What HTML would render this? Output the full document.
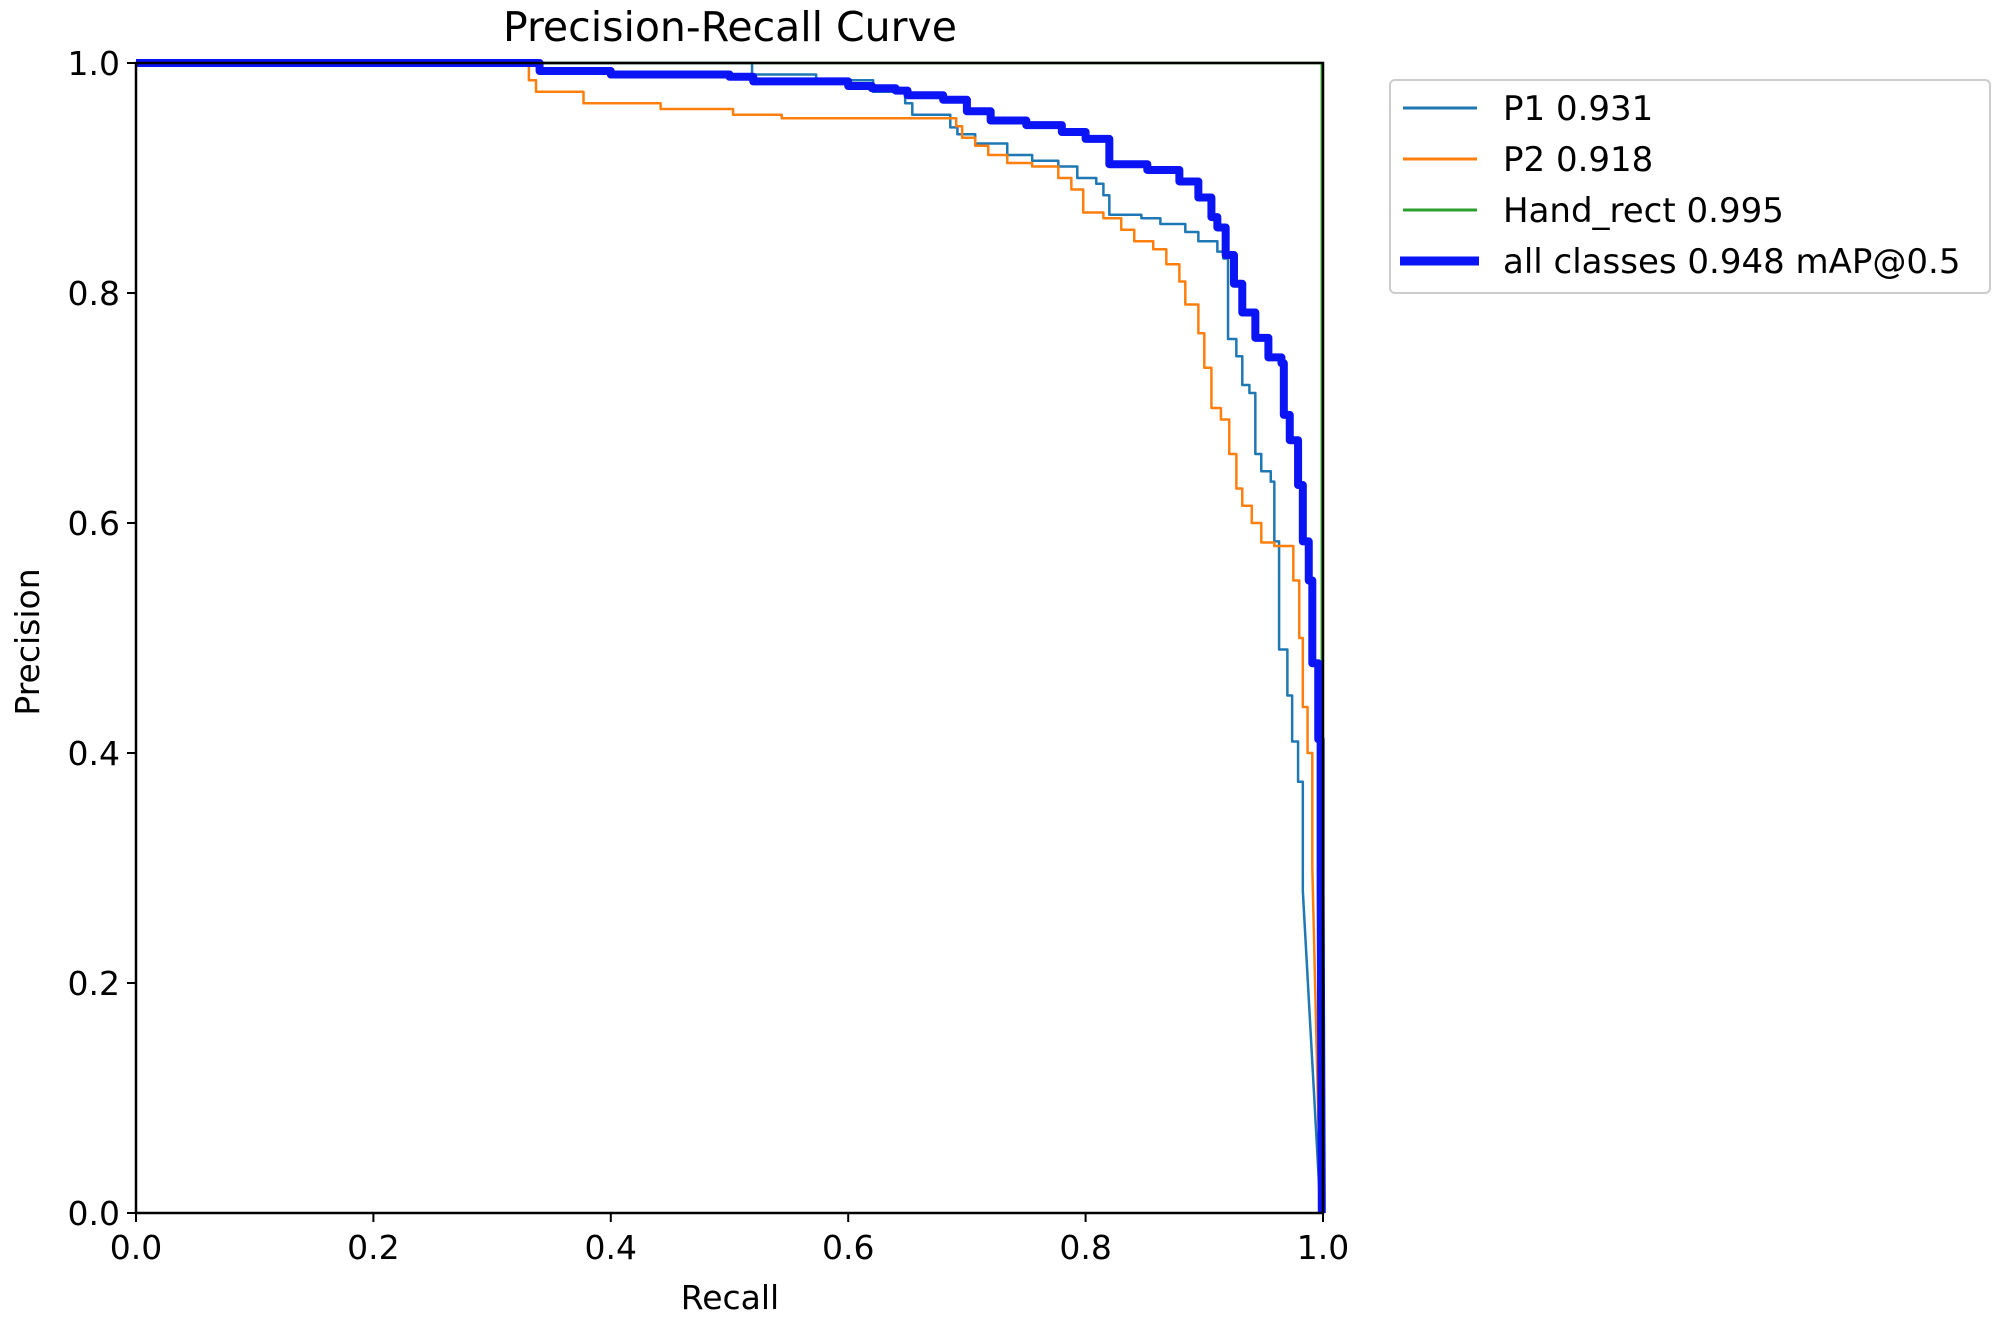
<!DOCTYPE html>
<html><head><meta charset="utf-8"><style>
html,body{margin:0;padding:0;background:#fff;}
svg{display:block;font-family:"DejaVu Sans","Liberation Sans",sans-serif;}
</style></head><body>
<svg id="chart" width="2000" height="1321" viewBox="0 0 2000 1321">
<rect width="2000" height="1321" fill="#fff"/>
<g id="plot"></g>
<g id="axes"></g>
<text x="730" y="41" font-size="41" text-anchor="middle">Precision-Recall Curve</text>
<text x="730" y="1309" font-size="33" text-anchor="middle">Recall</text>
<text transform="translate(39,642) rotate(-90)" font-size="33" text-anchor="middle">Precision</text>
<g>
<rect x="1390" y="80" width="600" height="213" rx="5" fill="#fff" stroke="#ccc" stroke-width="2"/>
<g><line x1="1403" y1="108" x2="1477" y2="108" stroke="#1f77b4" stroke-width="3"/><text x="1503" y="120" font-size="34">P1 0.931</text></g>
<g><line x1="1403" y1="159" x2="1477" y2="159" stroke="#ff7f0e" stroke-width="3"/><text x="1503" y="171" font-size="34">P2 0.918</text></g>
<g><line x1="1403" y1="210" x2="1477" y2="210" stroke="#2ca02c" stroke-width="3"/><text x="1503" y="222" font-size="34">Hand_rect 0.995</text></g>
<g><line x1="1400" y1="261" x2="1479" y2="261" stroke="#0b14f5" stroke-width="9"/><text x="1503" y="273" font-size="34">all classes 0.948 mAP@0.5</text></g>
</g>
</svg>
<script>
const xTicks = [0, 0.2, 0.4, 0.6, 0.8, 1.0];
const yTicks = [0, 0.2, 0.4, 0.6, 0.8, 1.0];
const tickLabels = ["0.0", "0.2", "0.4", "0.6", "0.8", "1.0"];
const p1Recall = [0, 0.519, 0.573, 0.621, 0.648, 0.654, 0.686, 0.692, 0.707, 0.734, 0.755, 0.777, 0.793, 0.809, 0.815, 0.82, 0.847, 0.863, 0.884, 0.895, 0.911, 0.916, 0.92, 0.927, 0.932, 0.938, 0.943, 0.948, 0.956, 0.959, 0.963, 0.97, 0.974, 0.979, 0.983, 0.998];
const p1Prec = [1.0, 0.99, 0.985, 0.975, 0.965, 0.955, 0.944, 0.938, 0.93, 0.92, 0.915, 0.91, 0.9, 0.895, 0.885, 0.868, 0.865, 0.86, 0.853, 0.845, 0.836, 0.83, 0.76, 0.745, 0.72, 0.713, 0.66, 0.645, 0.636, 0.584, 0.49, 0.45, 0.41, 0.375, 0.28, 0.0];
const p2Recall = [0, 0.331, 0.337, 0.342, 0.377, 0.442, 0.503, 0.544, 0.691, 0.696, 0.707, 0.718, 0.734, 0.755, 0.777, 0.788, 0.798, 0.815, 0.83, 0.841, 0.857, 0.868, 0.879, 0.884, 0.895, 0.9, 0.906, 0.914, 0.921, 0.927, 0.932, 0.94, 0.948, 0.959, 0.975, 0.98, 0.983, 0.987, 0.991, 0.998];
const p2Prec = [1.0, 0.985, 0.975, 0.975, 0.965, 0.96, 0.955, 0.952, 0.945, 0.935, 0.928, 0.92, 0.913, 0.91, 0.9, 0.89, 0.87, 0.865, 0.855, 0.845, 0.838, 0.825, 0.81, 0.79, 0.765, 0.735, 0.7, 0.69, 0.66, 0.63, 0.615, 0.6, 0.583, 0.58, 0.55, 0.5, 0.44, 0.4, 0.3, 0.0];
const handRecall = [0, 0.999, 0.999];
const handPrec = [1.0, 1.0, 0.0];
const allRecall = [0, 0.33, 0.34, 0.4, 0.5, 0.52, 0.6, 0.62, 0.64, 0.65, 0.68, 0.7, 0.72, 0.75, 0.78, 0.8, 0.82, 0.852, 0.879, 0.895, 0.906, 0.911, 0.918, 0.925, 0.932, 0.943, 0.954, 0.965, 0.967, 0.972, 0.979, 0.983, 0.988, 0.991, 0.996, 0.998, 0.999];
const allPrec = [1.0, 1.0, 0.993, 0.99, 0.988, 0.984, 0.98, 0.978, 0.976, 0.972, 0.968, 0.958, 0.95, 0.946, 0.94, 0.934, 0.912, 0.907, 0.897, 0.883, 0.866, 0.857, 0.833, 0.808, 0.783, 0.761, 0.744, 0.739, 0.694, 0.672, 0.633, 0.584, 0.55, 0.478, 0.412, 0.28, 0.0];

const NS = "http://www.w3.org/2000/svg";
const X0 = 136, X1 = 1323, Y0 = 1213, Y1 = 63;
function sx(v){ return X0 + v * (X1 - X0); }
function sy(v){ return Y0 - v * (Y0 - Y1); }
const plot = document.getElementById('plot');
const axes = document.getElementById('axes');

function stepPath(rs, ps, diagTail){
  let d = "M" + sx(rs[0]) + "," + sy(ps[0]);
  const n = rs.length;
  for (let i = 1; i < n; i++){
    if (diagTail && i === n - 1) {
      d += " L" + sx(rs[i]) + "," + sy(ps[i]);
    } else {
      d += " L" + sx(rs[i]) + "," + sy(ps[i-1]) + " L" + sx(rs[i]) + "," + sy(ps[i]);
    }
  }
  return d;
}
function addSeries(rs, ps, color, w, name, diagTail){
  const p = document.createElementNS(NS, 'path');
  p.setAttribute('d', stepPath(rs, ps, diagTail));
  p.setAttribute('fill', 'none');
  p.setAttribute('stroke', color);
  p.setAttribute('stroke-width', w);
  p.setAttribute('stroke-linejoin', 'round');
  
  
  plot.appendChild(p);
}
addSeries(p1Recall, p1Prec, '#1f77b4', 2.5, 'series-p1', true);
addSeries(p2Recall, p2Prec, '#ff7f0e', 2.5, 'series-p2', true);
addSeries(handRecall, handPrec, '#2ca02c', 2.5, 'series-hand-rect', false);
addSeries(allRecall, allPrec, '#0b14f5', 8, 'series-all-classes', true);

const frame = document.createElementNS(NS, 'rect');
frame.setAttribute('x', X0); frame.setAttribute('y', Y1);
frame.setAttribute('width', X1 - X0); frame.setAttribute('height', Y0 - Y1);
frame.setAttribute('fill', 'none'); frame.setAttribute('stroke', '#000'); frame.setAttribute('stroke-width', 2.5);


axes.appendChild(frame);

xTicks.forEach((v, i) => {
  const t = document.createElementNS(NS, 'line');
  t.setAttribute('x1', sx(v)); t.setAttribute('x2', sx(v));
  t.setAttribute('y1', Y0); t.setAttribute('y2', Y0 + 9);
  t.setAttribute('stroke', '#000'); t.setAttribute('stroke-width', 2);
  
  
  axes.appendChild(t);
  const l = document.createElementNS(NS, 'text');
  l.setAttribute('x', sx(v)); l.setAttribute('y', Y0 + 46);
  l.setAttribute('font-size', 33); l.setAttribute('text-anchor', 'middle');
  l.textContent = tickLabels[i];
  
  
  axes.appendChild(l);
});
yTicks.forEach((v, i) => {
  const t = document.createElementNS(NS, 'line');
  t.setAttribute('x1', X0 - 9); t.setAttribute('x2', X0);
  t.setAttribute('y1', sy(v)); t.setAttribute('y2', sy(v));
  t.setAttribute('stroke', '#000'); t.setAttribute('stroke-width', 2);
  
  
  axes.appendChild(t);
  const l = document.createElementNS(NS, 'text');
  l.setAttribute('x', X0 - 16); l.setAttribute('y', sy(v) + 12);
  l.setAttribute('font-size', 33); l.setAttribute('text-anchor', 'end');
  l.textContent = tickLabels[i];
  
  
  axes.appendChild(l);
});
</script>
</body></html>
